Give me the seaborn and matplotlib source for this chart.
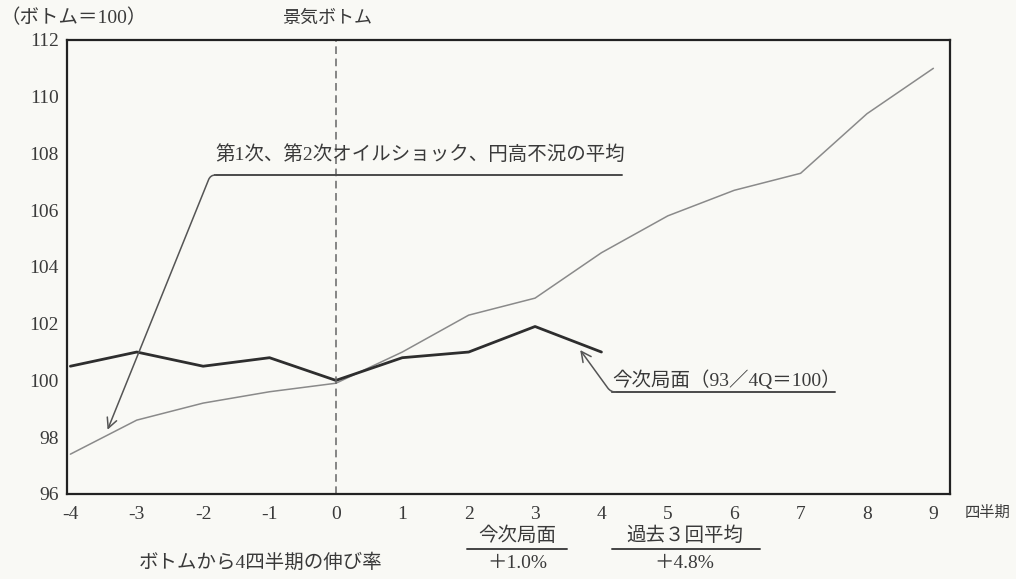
import numpy as np
import pandas as pd
import matplotlib
matplotlib.use('Agg')
import matplotlib.pyplot as plt
from matplotlib.lines import Line2D
import seaborn as sns

# data (bottom = 100)
quarters = [-4, -3, -2, -1, 0, 1, 2, 3, 4, 5, 6, 7, 8, 9]
past_avg = [97.4, 98.6, 99.2, 99.6, 99.9, 101.0, 102.3, 102.9, 104.5, 105.8, 106.7, 107.3, 109.4, 111.0]
current_q = [-4, -3, -2, -1, 0, 1, 2, 3, 4]
current = [100.5, 101.0, 100.5, 100.8, 100.0, 100.8, 101.0, 101.9, 101.0]
y_ticks = [96, 98, 100, 102, 104, 106, 108, 110, 112]

label_past = '第1次、第2次オイルショック、円高不況の平均'
label_current = '今次局面（93／4Q＝100）'

df = pd.concat([
    pd.DataFrame({'q': quarters, 'v': past_avg, 's': 'past'}),
    pd.DataFrame({'q': current_q, 'v': current, 's': 'current'}),
])

sns.set_style('white')
plt.rcParams['font.family'] = ['Liberation Serif', 'Noto Sans CJK JP', 'DejaVu Sans']

bg = '#f9f9f5'
txt = '#3a3a3a'
fig = plt.figure(figsize=(10.16, 5.79), dpi=100, facecolor=bg)
ax = fig.add_axes([0.066, 0.147, 0.869, 0.784], facecolor=bg)

sns.lineplot(data=df, x='q', y='v', hue='s', palette={'past': '#8a8a8a', 'current': '#2e2e2e'},
             size='s', sizes={'past': 1.1, 'current': 2.0}, legend=False, ax=ax)

ax.axvline(0, color='#666666', ls=(0, (5, 3)), lw=1.1)

ax.set_xlim(-4.05, 9.25)
ax.set_ylim(96, 112)
ax.set_xticks(quarters)
ax.set_xticklabels([str(q) for q in quarters])
ax.set_yticks(y_ticks)
ax.set_xlabel('')
ax.set_ylabel('')
for s in ax.spines.values():
    s.set_color('#222222')
    s.set_linewidth(1.6)
ax.tick_params(axis='both', direction='out', length=5, width=1, color='#333333',
               labelsize=14, labelcolor=txt)
ax.tick_params(axis='x', pad=4)
ax.tick_params(axis='y', pad=1)

# annotation: past average
ax.text(1.27, 107.95, label_past, ha='center', va='center', fontsize=14, color=txt)
ax.add_line(Line2D([-1.82, 4.31], [107.24, 107.24], color='#4a4a4a', lw=1.4))
ax.annotate('', xy=(-3.44, 98.26), xytext=(-1.82, 107.24),
            arrowprops=dict(arrowstyle='->', color='#555555', lw=1.1,
                            connectionstyle='angle,angleA=180,angleB=68,rad=5',
                            shrinkA=0, shrinkB=0, mutation_scale=18))

# annotation: current phase
ax.text(5.89, 100.02, label_current, ha='center', va='center', fontsize=14, color=txt)
ax.add_line(Line2D([4.16, 7.52], [99.59, 99.59], color='#4a4a4a', lw=1.4))
ax.annotate('', xy=(3.68, 101.07), xytext=(4.16, 99.59),
            arrowprops=dict(arrowstyle='->', color='#555555', lw=1.1,
                            connectionstyle='angle,angleA=180,angleB=-54,rad=5',
                            shrinkA=0, shrinkB=0, mutation_scale=18))

# header texts
fig.text(0.0, 0.969, '（ボトム＝100）', ha='left', va='center', fontsize=14, color=txt)
fig.text(0.322, 0.969, '景気ボトム', ha='center', va='center', fontsize=13, color=txt)
fig.text(0.972, 0.114, '四半期', ha='center', va='center', fontsize=11, color=txt)

# bottom growth rates
fig.text(0.257, 0.028, 'ボトムから4四半期の伸び率', ha='center', va='center', fontsize=14, color=txt)
fig.text(0.509, 0.074, '今次局面', ha='center', va='center', fontsize=14, color=txt)
fig.text(0.509, 0.026, '＋1.0%', ha='center', va='center', fontsize=14, color=txt)
fig.add_artist(Line2D([0.460, 0.558], [0.052, 0.052], color='#444444', lw=1.4))
fig.text(0.674, 0.074, '過去３回平均', ha='center', va='center', fontsize=14, color=txt)
fig.text(0.674, 0.026, '＋4.8%', ha='center', va='center', fontsize=14, color=txt)
fig.add_artist(Line2D([0.602, 0.748], [0.052, 0.052], color='#444444', lw=1.4))

fig.savefig('out.png', dpi=100, facecolor=bg)
